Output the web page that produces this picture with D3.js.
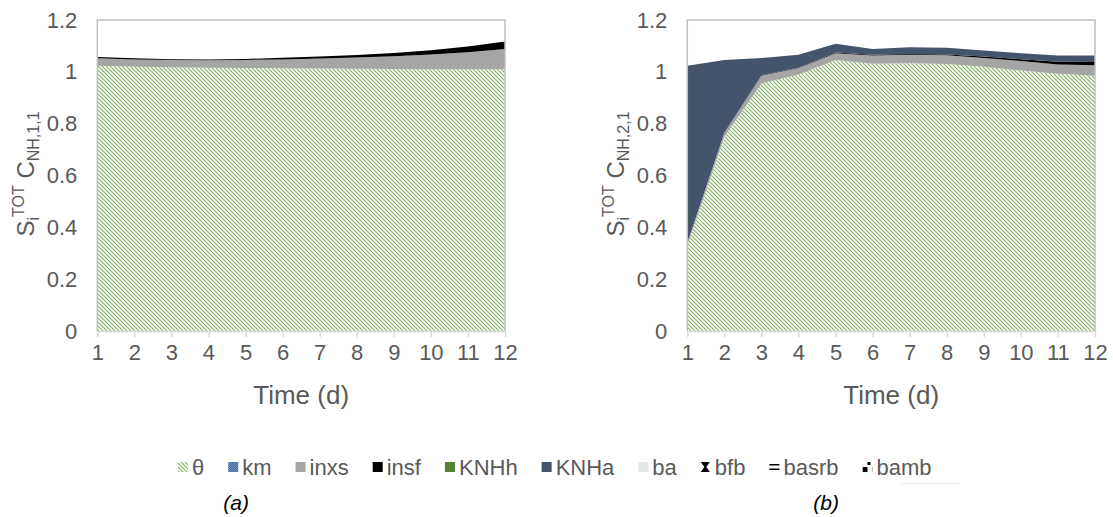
<!DOCTYPE html>
<html>
<head>
<meta charset="utf-8">
<script src="https://cdn.jsdelivr.net/npm/d3@7"></script>
<style>
  body { margin: 0; background: #fff; }
  text { font-family: Arial, "Liberation Sans", sans-serif; fill: #595959; }
</style>
</head>
<body>
<div id="chart"></div>
<script>
// time axis (days)
var days = [1, 2, 3, 4, 5, 6, 7, 8, 9, 10, 11, 12];
var yTicks = [0, 0.2, 0.4, 0.6, 0.8, 1, 1.2];
var keys = ["θ", "km", "inxs", "insf", "KNHh", "KNHa", "ba", "bfb", "basrb", "bamb"];

// panel (a): C_NH,1,1
var thetaA = [1.023, 1.020, 1.018, 1.016, 1.015, 1.014, 1.013, 1.012, 1.011, 1.010, 1.010, 1.010];
var inxsA  = [0.029, 0.028, 0.028, 0.029, 0.031, 0.034, 0.038, 0.043, 0.049, 0.057, 0.066, 0.078];
var insfA  = [0.005, 0.004, 0.003, 0.003, 0.004, 0.006, 0.008, 0.010, 0.013, 0.016, 0.022, 0.029];
var knhaA  = [0, 0, 0, 0, 0, 0, 0, 0, 0, 0, 0, 0];

// panel (b): C_NH,2,1
var thetaB = [0.330, 0.750, 0.955, 0.990, 1.046, 1.031, 1.033, 1.030, 1.020, 1.005, 0.993, 0.985];
var inxsB  = [0.010, 0.015, 0.030, 0.025, 0.026, 0.032, 0.033, 0.034, 0.033, 0.037, 0.035, 0.040];
var insfB  = [0.000, 0.000, 0.002, 0.002, 0.003, 0.003, 0.003, 0.003, 0.006, 0.007, 0.011, 0.013];
var knhaB  = [0.683, 0.281, 0.066, 0.049, 0.033, 0.022, 0.026, 0.026, 0.023, 0.023, 0.024, 0.025];

// the other indices are zero in both panels
var zeros = [0, 0, 0, 0, 0, 0, 0, 0, 0, 0, 0, 0];

var W = 1113, H = 517;
var svg = d3.select("#chart").append("svg")
    .attr("width", W)
    .attr("height", H);

var defs = svg.append("defs");

// wide downward diagonal, green
var p = defs.append("pattern").attr("id", "hatch")
    .attr("patternUnits", "userSpaceOnUse")
    .attr("width", 4).attr("height", 4);
p.append("rect").attr("width", 4).attr("height", 4).attr("fill", "#fff");
p.append("path").attr("d", "M-1,-1 L5,5 M3,-1 L5,1 M-1,3 L1,5")
    .attr("stroke", "#84b464").attr("stroke-width", 1.2);

// small checker blue
var p2 = defs.append("pattern").attr("id", "checkBlue")
    .attr("patternUnits", "userSpaceOnUse")
    .attr("width", 2).attr("height", 2);
p2.append("rect").attr("width", 2).attr("height", 2).attr("fill", "#7f9fc8");
p2.append("rect").attr("width", 1).attr("height", 1).attr("fill", "#2e5c94");
p2.append("rect").attr("x", 1).attr("y", 1).attr("width", 1).attr("height", 1).attr("fill", "#2e5c94");

// horizontal double lines
var p3 = defs.append("pattern").attr("id", "hlines")
    .attr("patternUnits", "userSpaceOnUse")
    .attr("width", 10).attr("height", 5);
p3.append("rect").attr("width", 10).attr("height", 5).attr("fill", "#fff");
p3.append("rect").attr("y", 1).attr("width", 10).attr("height", 1.5).attr("fill", "#000");

// big checker black
var p4 = defs.append("pattern").attr("id", "checkBlack")
    .attr("patternUnits", "userSpaceOnUse")
    .attr("width", 10).attr("height", 10);
p4.append("rect").attr("width", 10).attr("height", 10).attr("fill", "#fff");
p4.append("rect").attr("width", 5).attr("height", 5).attr("fill", "#000");
p4.append("rect").attr("x", 5).attr("y", 5).attr("width", 3).attr("height", 3).attr("fill", "#000");

var fills = {
    "θ": "url(#hatch)",
    "km": "url(#checkBlue)",
    "inxs": "#a5a5a5",
    "insf": "#000000",
    "KNHh": "#548235",
    "KNHa": "#44546a",
    "ba": "#e7e6e6",
    "bfb": "#000000",
    "basrb": "url(#hlines)",
    "bamb": "url(#checkBlack)"
};

function buildRows(theta, inxs, insf, knha) {
    return days.map(function(d, i) {
        return {
            day: d, "θ": theta[i], km: zeros[i], inxs: inxs[i], insf: insf[i],
            KNHh: zeros[i], KNHa: knha[i], ba: zeros[i], bfb: zeros[i],
            basrb: zeros[i], bamb: zeros[i]
        };
    });
}

var plotTop = 20, plotBottom = 331;
var stack = d3.stack().keys(keys);

function drawPanel(x0, x1, rows, subLabel, tag) {
    var x = d3.scaleLinear().domain([1, 12]).range([x0, x1]);
    var y = d3.scaleLinear().domain([0, 1.2]).range([plotBottom, plotTop]);
    var g = svg.append("g");

    var area = d3.area()
        .x(function(d) { return x(d.data.day); })
        .y0(function(d) { return y(d[0]); })
        .y1(function(d) { return y(d[1]); });

    g.selectAll(".layer")
        .data(stack(rows))
        .enter().append("path")
        .attr("class", "layer")
        .attr("fill", function(d) { return fills[d.key]; })
        .attr("d", area);

    // plot border (left, top, right)
    g.append("path")
        .attr("d", "M" + x0 + "," + plotBottom + "V" + plotTop + "H" + x1 + "V" + plotBottom)
        .attr("fill", "none")
        .attr("stroke", "#bfbfbf")
        .attr("stroke-width", 1.5);

    var xAxis = g.append("g")
        .attr("transform", "translate(0," + plotBottom + ")")
        .call(d3.axisBottom(x).tickValues(days).tickSize(6).tickSizeOuter(0).tickPadding(7));
    xAxis.select(".domain").attr("stroke", "#d9d9d9").attr("stroke-width", 1.5);
    xAxis.selectAll(".tick line").attr("stroke", "#d9d9d9").attr("stroke-width", 1.5);
    xAxis.selectAll("text").style("font-size", "22px").attr("fill", "#595959")
        .style("font-family", "Arial, 'Liberation Sans', sans-serif");

    var yAxis = g.append("g")
        .attr("transform", "translate(" + (x0 - 14) + ",0)")
        .call(d3.axisLeft(y).tickValues(yTicks).tickSize(0).tickPadding(6)
            .tickFormat(function(d) { return String(+d.toFixed(1)); }));
    yAxis.select(".domain").remove();
    yAxis.selectAll("text").style("font-size", "22px").attr("fill", "#595959")
        .style("font-family", "Arial, 'Liberation Sans', sans-serif");

    g.append("text")
        .attr("x", (x0 + x1) / 2)
        .attr("y", 404)
        .attr("text-anchor", "middle")
        .style("font-size", "26px")
        .text("Time (d)");

    // y title: S_i^TOT C_NH,k,1
    var t = g.append("text")
        .attr("transform", "translate(" + (x0 - 63) + ",174) rotate(-90)")
        .attr("text-anchor", "middle")
        .style("font-size", "24px");
    t.append("tspan").text("S");
    t.append("tspan").attr("dy", 5).style("font-size", "16px").text("i");
    t.append("tspan").attr("dy", -15).style("font-size", "16px").text("TOT");
    t.append("tspan").attr("dy", 10).text(" C");
    t.append("tspan").attr("dy", 5).style("font-size", "16px").text(subLabel);

    g.append("text")
        .attr("x", (x0 + x1) / 2 - 65)
        .attr("y", 510)
        .attr("text-anchor", "middle")
        .style("font-size", "21px")
        .style("font-style", "italic")
        .style("fill", "#000")
        .text(tag);
}

drawPanel(97.3, 505, buildRows(thetaA, inxsA, insfA, knhaA), "NH,1,1", "(a)");
drawPanel(687.3, 1095, buildRows(thetaB, inxsB, insfB, knhaB), "NH,2,1", "(b)");

// legend
var legend = svg.append("g").attr("transform", "translate(178,467)");
var lx = 0;
keys.forEach(function(k) {
    var item = legend.append("g").attr("transform", "translate(" + lx + ",0)");
    if (k === "bfb") {
        item.append("path").attr("d", "M0,-5 H9 L5.5,0 L9,5 H0 L3.5,0 Z").attr("fill", "#000");
    } else if (k === "basrb") {
        item.append("rect").attr("y", -3).attr("width", 10).attr("height", 1.5).attr("fill", "#000");
        item.append("rect").attr("y", 1.5).attr("width", 10).attr("height", 1.5).attr("fill", "#000");
    } else {
        item.append("rect").attr("y", -5).attr("width", 10).attr("height", 10).attr("fill", fills[k]);
    }
    var txt = item.append("text")
        .attr("x", 14)
        .attr("dy", "0.35em")
        .style("font-size", "22px")
        .text(k);
    lx += 14 + txt.node().getComputedTextLength() + 24;
});

// faint line under legend end
svg.append("line")
    .attr("x1", 900).attr("x2", 960)
    .attr("y1", 483.5).attr("y2", 483.5)
    .attr("stroke", "#eeeeee");
</script>
</body>
</html>
